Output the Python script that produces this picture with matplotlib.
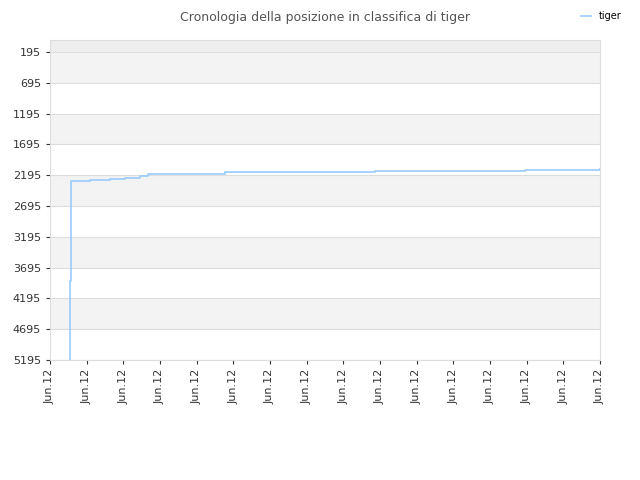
import matplotlib
matplotlib.use("Agg")
import matplotlib.pyplot as plt

# data (x in tick units, y = rank)
x_vals = [0.54, 0.545, 0.56, 0.58, 1.09, 1.64, 2.05, 2.45, 2.67, 4.77, 8.86, 12.95, 15.0]
ranks = [5195, 3905, 2921, 2291, 2275, 2260, 2240, 2210, 2178, 2146, 2130, 2114, 2098]
tick_labels = ["Jun.12"] * 16
y_ticks = list(range(195, 5196, 500))

fig = plt.figure(figsize=(6.4, 4.8), dpi=100)
ax = fig.add_axes([50 / 640, 120 / 480, 550 / 640, 320 / 480])

# alternating bands
ax.axhspan(0, 195, color="#eeeeee", lw=0)
for i, t in enumerate(y_ticks[:-1]):
    if i % 2 == 0:
        ax.axhspan(t, t + 500, color="#f3f3f3", lw=0)
for t in y_ticks:
    ax.axhline(t, color="#dddddd", lw=0.8)

ax.plot(x_vals, ranks, drawstyle="steps-post", color="#99ccff", lw=1.2, label="tiger")

ax.set_xlim(0, 15)
ax.set_ylim(5195, 0)
ax.set_yticks(y_ticks)
ax.set_xticks(range(16))
ax.set_xticklabels(tick_labels, rotation=90)
ax.tick_params(labelsize=8, colors="#333333", length=3)
for s in ax.spines.values():
    s.set_color("#dddddd")

ax.set_title("Cronologia della posizione in classifica di tiger", fontsize=9, color="#555555", pad=14)
fig.legend(loc="upper right", bbox_to_anchor=(0.985, 0.995), frameon=False, fontsize=7,
           handlelength=1.0, handletextpad=0.8)

fig.savefig("out.png")
